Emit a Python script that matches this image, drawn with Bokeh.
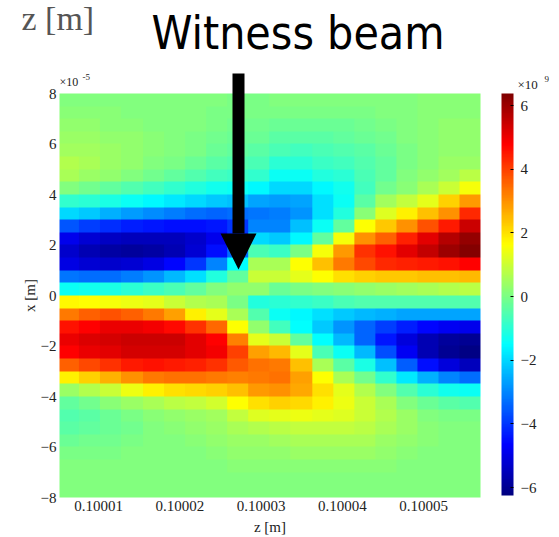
import numpy as np
from bokeh.plotting import figure
from bokeh.models import (LinearColorMapper, ColorBar, FixedTicker, PrintfTickFormatter,
                          Arrow, NormalHead, Range1d, Label)
from bokeh.embed import file_html
from bokeh.resources import INLINE

# ---------------- data ----------------
# longitudinal position z [m] (cell centres)
z_centers = [0.1000063, 0.1000089, 0.1000115, 0.1000141, 0.1000167, 0.1000193, 0.1000219,
             0.1000245, 0.1000271, 0.1000297, 0.1000323, 0.1000349, 0.1000375, 0.1000401,
             0.1000427, 0.1000453, 0.1000479, 0.1000505, 0.1000531, 0.1000557]
# transverse position x [x1e-5 m] (cell centres, top to bottom)
x_centers = [7.75, 7.25, 6.75, 6.25, 5.75, 5.25, 4.75, 4.25, 3.75, 3.25, 2.75, 2.25, 1.75, 1.25,
             0.75, 0.25, -0.25, -0.75, -1.25, -1.75, -2.25, -2.75, -3.25, -3.75, -4.25, -4.75,
             -5.25, -5.75, -6.25, -6.75, -7.25, -7.75]
# field values [x1e9], one row per x_centers entry, one column per z_centers entry
field_rows = [
    [0.1, 0.1, 0.1, 0.1, 0.1, 0.1, 0.1, 0.1, 0.0, 0.0, 0.1, 0.1, 0.1, 0.1, 0.1, 0.1, 0.1, 0.2, 0.2, 0.2],
    [0.2, 0.2, 0.2, 0.1, 0.1, 0.1, 0.1, 0.0, 0.0, 0.0, 0.0, 0.0, 0.0, 0.0, 0.0, 0.1, 0.1, 0.2, 0.2, 0.2],
    [0.3, 0.3, 0.2, 0.2, 0.1, 0.1, 0.1, 0.0, -0.1, -0.1, -0.2, -0.2, -0.2, -0.2, -0.1, 0.0, 0.1, 0.2, 0.3, 0.3],
    [0.4, 0.4, 0.3, 0.3, 0.2, 0.1, 0.0, -0.1, -0.2, -0.2, -0.4, -0.4, -0.4, -0.3, -0.2, -0.1, 0.1, 0.2, 0.3, 0.3],
    [0.5, 0.5, 0.4, 0.3, 0.2, 0.1, 0.0, -0.2, -0.3, -0.4, -0.6, -0.7, -0.6, -0.5, -0.4, -0.2, 0.0, 0.2, 0.3, 0.3],
    [0.7, 0.6, 0.4, 0.3, 0.1, 0.0, -0.2, -0.4, -0.5, -0.6, -1.0, -1.0, -0.8, -0.7, -0.5, -0.3, 0.0, 0.2, 0.4, 0.4],
    [0.6, 0.4, 0.3, 0.1, -0.1, -0.3, -0.5, -0.7, -0.8, -0.9, -1.4, -1.4, -1.1, -1.0, -0.6, -0.3, 0.1, 0.3, 0.5, 0.8],
    [0.1, -0.1, -0.3, -0.5, -0.7, -0.9, -1.1, -1.3, -1.4, -1.6, -2.0, -2.0, -1.6, -1.3, -0.7, -0.1, 0.2, 0.6, 1.0, 1.5],
    [-0.9, -1.0, -1.2, -1.4, -1.6, -1.8, -2.0, -2.2, -2.3, -2.6, -2.7, -2.6, -1.9, -1.4, -0.4, 0.5, 0.9, 1.3, 2.2, 2.9],
    [-2.0, -2.2, -2.5, -2.7, -2.9, -3.1, -3.3, -3.4, -3.3, -3.2, -3.1, -2.8, -1.9, -1.1, 0.2, 1.2, 1.8, 2.4, 3.0, 4.3],
    [-3.6, -3.9, -4.1, -4.3, -4.4, -4.5, -4.5, -4.4, -4.0, -3.0, -3.0, -2.3, -1.4, -0.3, 1.6, 2.3, 3.0, 3.8, 4.5, 5.4],
    [-4.9, -5.2, -5.4, -5.5, -5.5, -5.5, -5.3, -4.9, -4.1, -2.0, -2.2, -1.6, -0.3, 1.5, 3.0, 3.6, 4.4, 5.1, 5.7, 6.1],
    [-5.3, -5.6, -5.8, -5.9, -5.8, -5.6, -5.2, -4.5, -3.3, -0.6, -0.8, 0.0, 1.5, 2.9, 4.2, 4.6, 5.1, 5.5, 6.0, 6.3],
    [-5.0, -5.2, -5.3, -5.2, -5.0, -4.6, -4.0, -3.0, -1.5, 0.6, 0.6, 1.6, 2.4, 3.3, 3.9, 4.3, 4.4, 4.5, 4.6, 4.8],
    [-3.2, -3.3, -3.3, -3.1, -2.8, -2.4, -1.9, -1.1, -0.3, 1.0, 1.0, 1.3, 1.6, 2.0, 2.2, 2.3, 2.3, 2.4, 2.4, 2.5],
    [-1.4, -1.3, -1.2, -1.0, -0.8, -0.6, -0.3, 0.1, 0.3, 0.3, -0.2, 0.0, 0.1, 0.2, 0.3, 0.4, 0.5, 0.6, 0.7, 0.8],
    [1.7, 1.6, 1.5, 1.4, 1.3, 1.0, 0.7, 0.6, 0.0, -1.1, -1.0, -0.9, -0.8, -0.6, -0.5, -0.5, -0.5, -0.5, -0.5, -0.5],
    [3.3, 3.6, 3.8, 3.6, 3.3, 2.8, 1.8, 1.3, 0.6, -0.5, -1.4, -1.6, -1.9, -2.2, -2.4, -2.5, -2.6, -2.6, -2.6, -2.6],
    [4.6, 4.8, 5.0, 5.0, 4.9, 4.7, 4.2, 3.5, 1.6, 0.3, -0.7, -1.5, -2.2, -2.8, -3.4, -3.9, -4.3, -4.6, -4.8, -4.9],
    [5.0, 5.2, 5.3, 5.4, 5.4, 5.4, 5.1, 4.8, 3.2, 1.3, 1.0, -0.3, -1.5, -2.4, -3.4, -4.4, -5.1, -5.6, -5.9, -6.0],
    [4.8, 5.0, 5.1, 5.3, 5.3, 5.3, 5.1, 4.9, 4.0, 2.8, 2.5, 1.3, -0.6, -1.4, -2.4, -3.7, -4.8, -5.6, -6.0, -6.2],
    [3.6, 3.9, 4.2, 4.5, 4.6, 4.5, 4.4, 4.2, 3.7, 3.4, 3.3, 2.4, 0.6, -0.4, -1.2, -2.3, -3.5, -4.5, -5.1, -5.5],
    [1.8, 2.2, 2.6, 3.0, 3.3, 3.4, 3.4, 3.3, 3.2, 3.3, 3.4, 2.8, 1.6, 0.6, -0.1, -0.9, -1.8, -2.5, -3.0, -3.3],
    [0.4, 0.7, 1.0, 1.4, 1.8, 2.0, 2.1, 2.2, 2.4, 2.9, 3.0, 2.7, 2.0, 1.3, 0.7, 0.1, -0.5, -1.0, -1.3, -1.4],
    [-0.3, -0.1, 0.2, 0.4, 0.6, 0.8, 0.9, 1.1, 1.6, 2.0, 2.2, 2.1, 1.8, 1.4, 1.0, 0.6, 0.1, -0.2, -0.4, -0.5],
    [-0.5, -0.4, -0.2, 0.0, 0.2, 0.3, 0.4, 0.5, 0.9, 1.2, 1.3, 1.4, 1.3, 1.2, 1.0, 0.7, 0.4, 0.1, 0.0, 0.0],
    [-0.4, -0.3, -0.2, -0.1, 0.1, 0.2, 0.3, 0.4, 0.6, 0.7, 0.8, 0.9, 0.9, 0.9, 0.8, 0.6, 0.4, 0.2, 0.1, 0.1],
    [-0.2, -0.1, -0.1, 0.0, 0.1, 0.1, 0.2, 0.3, 0.4, 0.4, 0.5, 0.6, 0.6, 0.6, 0.6, 0.4, 0.3, 0.2, 0.1, 0.1],
    [0.0, 0.0, 0.0, 0.1, 0.1, 0.1, 0.1, 0.2, 0.3, 0.3, 0.3, 0.4, 0.4, 0.4, 0.4, 0.3, 0.2, 0.1, 0.1, 0.1],
    [0.1, 0.1, 0.1, 0.1, 0.1, 0.1, 0.1, 0.1, 0.2, 0.2, 0.2, 0.2, 0.2, 0.2, 0.2, 0.2, 0.1, 0.1, 0.1, 0.1],
    [0.1, 0.1, 0.1, 0.1, 0.1, 0.1, 0.1, 0.1, 0.1, 0.1, 0.1, 0.1, 0.1, 0.1, 0.1, 0.1, 0.1, 0.1, 0.1, 0.1],
    [0.1, 0.1, 0.1, 0.1, 0.1, 0.1, 0.1, 0.1, 0.1, 0.1, 0.1, 0.1, 0.1, 0.1, 0.1, 0.1, 0.1, 0.1, 0.1, 0.1],
]
z_ticks = [0.10001, 0.10002, 0.10003, 0.10004, 0.10005]
x_ticks = [-8, -6, -4, -2, 0, 2, 4, 6, 8]
cbar_ticks = [-6, -4, -2, 0, 2, 4, 6]
cbar_low, cbar_high = -6.25, 6.38
z_limits = (0.1000052, 0.1000570)
x_limits = (-8, 8)

# ---------------- style helpers ----------------
def jet(n=256):
    cols = []
    for i in range(n):
        t = i / (n - 1)
        r = min(max(1.5 - abs(4 * t - 3), 0), 1)
        g = min(max(1.5 - abs(4 * t - 2), 0), 1)
        b = min(max(1.5 - abs(4 * t - 1), 0), 1)
        cols.append("#%02x%02x%02x" % (int(round(r * 255)), int(round(g * 255)), int(round(b * 255))))
    return cols

W, H = 559, 537
FL, FR, FT, FB = 59, 480, 93, 497   # heat-map box edges (page pixels)
ZPP = (z_limits[1] - z_limits[0]) / (FR - FL)   # z per pixel
XPP = (x_limits[1] - x_limits[0]) / (FB - FT)   # x per pixel

def dx(px):
    return z_limits[0] + (px - FL) * ZPP

def dy(py):
    return x_limits[1] - (py - FT) * XPP

SERIF = "Liberation Serif"

# the plotting frame spans the whole page; axes are pinned to the heat-map edges
p = figure(width=W, height=H, x_range=Range1d(dx(0), dx(W)), y_range=Range1d(dy(H), dy(0)),
           output_backend="svg", toolbar_location=None,
           min_border_left=0, min_border_right=0, min_border_top=0, min_border_bottom=0)
p.outline_line_color = None
p.grid.visible = False
p.background_fill_color = "white"
p.border_fill_color = "white"

mapper = LinearColorMapper(palette=jet(), low=cbar_low, high=cbar_high)

arr = np.flipud(np.array(field_rows, dtype=float))
dz = z_centers[1] - z_centers[0]
dxc = x_centers[0] - x_centers[1]
p.image(image=[arr], x=min(z_centers) - dz / 2, y=min(x_centers) - dxc / 2,
        dw=max(z_centers) - min(z_centers) + dz, dh=max(x_centers) - min(x_centers) + dxc,
        color_mapper=mapper)
# white mask left of the axis limit (the first cells start slightly before it)
p.quad(left=[dx(0)], right=[z_limits[0]], bottom=[dy(H)], top=[dy(0)], fill_color="white", line_color=None)

p.xaxis.fixed_location = x_limits[0]
p.yaxis.fixed_location = z_limits[0]
p.xaxis.bounds = z_limits
p.yaxis.bounds = x_limits
p.xaxis.ticker = FixedTicker(ticks=z_ticks)
p.xaxis.formatter = PrintfTickFormatter(format="%.5f")
p.yaxis.ticker = FixedTicker(ticks=x_ticks)
p.xaxis.axis_label = "z [m]"
p.yaxis.axis_label = "x [m]"
for ax in (p.xaxis[0], p.yaxis[0]):
    ax.axis_line_color = None
    ax.major_tick_line_color = None
    ax.minor_tick_line_color = None
    ax.major_tick_out = 0
    ax.major_tick_in = 0
    ax.minor_tick_out = 0
    ax.minor_tick_in = 0
    ax.major_label_text_font = SERIF
    ax.major_label_text_font_size = "15px"
    ax.major_label_text_color = "#222222"
    ax.axis_label_text_font = SERIF
    ax.axis_label_text_font_size = "15px"
    ax.axis_label_text_font_style = "normal"
    ax.axis_label_text_color = "#222222"
p.xaxis.major_label_standoff = 3
p.xaxis.axis_label_standoff = 5
p.yaxis.major_label_standoff = 3
p.yaxis.axis_label_standoff = 0

cb = ColorBar(color_mapper=mapper, ticker=FixedTicker(ticks=cbar_ticks), width=12, height=FB - FT - 2,
              location=(FR + 21, H - FB + 2), padding=0, margin=0, label_standoff=7,
              major_label_text_font=SERIF, major_label_text_font_size="15px",
              major_label_text_color="#222222",
              major_tick_line_color="black", major_tick_in=3, major_tick_out=0,
              bar_line_color=None, background_fill_alpha=0, border_line_color=None)
p.add_layout(cb, "center")

def lab(txt, px, py_mid, size, font=SERIF, color="#222222"):
    p.add_layout(Label(x=dx(px), y=dy(py_mid), text=txt, text_font=font, text_font_size=size,
                       text_color=color, text_align="left", text_baseline="middle"))

# slide annotations
lab("z [m]", 21, 18, "34px", color="#555555")
lab("Witness beam", 151, 32, "46px", font="DejaVu Sans Condensed", color="black")
# exponent multipliers
lab("\u00d710", 59, 81, "12px")
lab("-5", 82, 76, "9px")
lab("\u00d710", 517, 84, "13px")
lab("9", 544, 78, "9px")

# arrow pointing at the witness beam
p.add_layout(Arrow(end=NormalHead(size=36, fill_color="black", line_color="black", line_width=0),
                   x_start=dx(238), y_start=dy(73), x_end=dx(238), y_end=dy(269),
                   line_width=12, line_color="black"))

open("out.html", "w").write(file_html(p, INLINE))
